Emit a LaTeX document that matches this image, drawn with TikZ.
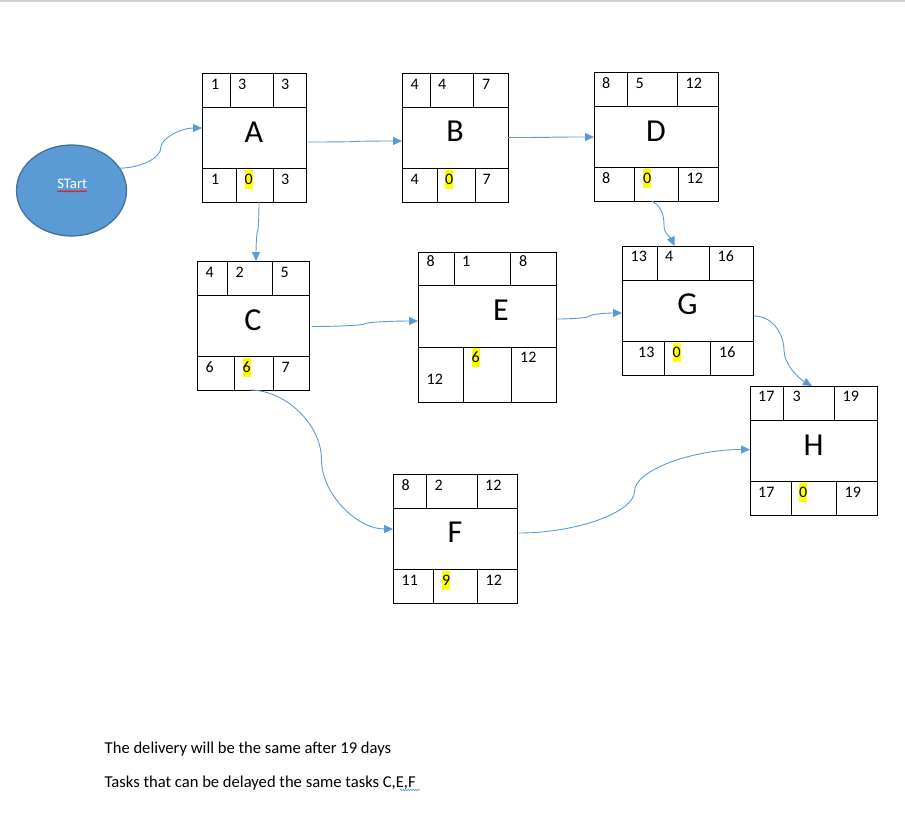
\documentclass[tikz,border=0pt]{standalone}
\usepackage{fontspec}
\setmainfont{Carlito}
\usetikzlibrary{arrows.meta,calc,shapes.geometric,decorations.pathmorphing}

\definecolor{linkblue}{HTML}{5B9BD5}
\definecolor{startedge}{HTML}{41719C}
\definecolor{marker}{HTML}{FFFF00}
\definecolor{frame}{HTML}{D0D0D0}

\newcommand{\numfont}{\fontsize{16}{19}\selectfont}
\newcommand{\letterfont}{\fontsize{32}{38}\selectfont}
\newcommand{\startfont}{\fontsize{14.67}{18}\selectfont}
\newcommand{\notefont}{\fontsize{16.6}{20}\selectfont}

\tikzset{
  box/.style={draw, line width=1pt, inner sep=0pt, outer sep=0pt},
  num/.style={anchor=base west, inner sep=0pt, font=\numfont},
  hl/.style={num, fill=marker, text height=14.5pt, text depth=5pt},
  letter/.style={anchor=base, inner sep=0pt, font=\letterfont},
  note/.style={anchor=base west, inner sep=0pt, font=\notefont},
  startnode/.style={ellipse, draw=startedge, fill=linkblue, line width=1.3pt,
    minimum width=110pt, minimum height=91pt, inner sep=0pt, outer sep=0pt},
  conn/.style={draw=linkblue, line width=0.9pt, -{Triangle[length=9pt,width=8pt]}},
  spell/.style={draw=#1, line width=0.6pt, decorate,
    decoration={snake, amplitude=0.7pt, segment length=2.5pt}},
  % curved connector, leaves and enters horizontally
  hS/.style={to path={let \p1=(\tikztostart), \p2=(\tikztotarget) in
    .. controls ({0.75*\x1+0.25*\x2},\y1) and ({0.5*\x1+0.5*\x2},{0.75*\y1+0.25*\y2})
    .. ({0.5*\x1+0.5*\x2},{0.5*\y1+0.5*\y2})
    .. controls ({0.5*\x1+0.5*\x2},{0.25*\y1+0.75*\y2}) and ({0.25*\x1+0.75*\x2},\y2)
    .. (\tikztotarget) \tikztonodes}},
  % curved connector, leaves and enters vertically
  vS/.style={to path={let \p1=(\tikztostart), \p2=(\tikztotarget) in
    .. controls (\x1,{0.75*\y1+0.25*\y2}) and ({0.75*\x1+0.25*\x2},{0.5*\y1+0.5*\y2})
    .. ({0.5*\x1+0.5*\x2},{0.5*\y1+0.5*\y2})
    .. controls ({0.25*\x1+0.75*\x2},{0.5*\y1+0.5*\y2}) and (\x2,{0.25*\y1+0.75*\y2})
    .. (\tikztotarget) \tikztonodes}}
}

% #1 name, #2 left, #3 right, #4 top, #5 first line, #6 second line, #7 bottom,
% #8 dividers of the top row, #9 dividers of the bottom row
\newcommand{\taskbox}[9]{%
  \node[box, minimum width={#3-#2}, minimum height={#5-#4}] (#1-t) at ({(#2+#3)/2},{(#4+#5)/2}) {};
  \node[box, minimum width={#3-#2}, minimum height={#6-#5}] (#1) at ({(#2+#3)/2},{(#5+#6)/2}) {};
  \node[box, minimum width={#3-#2}, minimum height={#7-#6}] (#1-b) at ({(#2+#3)/2},{(#6+#7)/2}) {};
  \foreach \xd in {#8} \draw[line width=1pt] (\xd,#4) -- (\xd,#5);
  \foreach \xd in {#9} \draw[line width=1pt] (\xd,#6) -- (\xd,#7);
}

% #1 prefix, #2-#4 x of the three cells, #5 baseline, #6-#8 texts, #9 style of the middle one
\newcommand{\cellnums}[9]{%
  \node[num] (#1-1) at (#2,#5) {#6};
  \node[#9] (#1-2) at (#3,#5) {#7};
  \node[num] (#1-3) at (#4,#5) {#8};
}

\begin{document}
\begin{tikzpicture}[x=1pt,y=-1pt]
  \useasboundingbox (0,0) rectangle (905,822);
  \draw[frame, line width=1.5pt] (0,0.8) -- (905,0.8);

  % start
  \node[startnode] (Start) at (71.5,190.5) {};
  \node[anchor=base, inner sep=0pt, font=\startfont, text=white] (start-text) at (72.2,188.3) {STart};
  \draw[spell=red] ([yshift=-3pt]start-text.base west) -- ([yshift=-3pt]start-text.base east);

  % tasks
  \taskbox{A}{202}{306}{73}{107}{168}{202}{230,273}{236,273}
  \cellnums{A-t}{211}{238}{281}{89}{1}{3}{3}{num}
  \cellnums{A-b}{211}{244.5}{281}{184}{1}{0}{3}{hl}
  \node[letter] (A-name) at (254,142.5) {A};

  \taskbox{B}{402}{508}{73}{107}{168}{202}{430,473}{437,475}
  \cellnums{B-t}{410.5}{438}{482}{89}{4}{4}{7}{num}
  \cellnums{B-b}{410.5}{445}{482.5}{184}{4}{0}{7}{hl}
  \node[letter] (B-name) at (455,141.7) {B};

  \taskbox{D}{594}{718}{72}{106}{167}{201}{627,677}{634,678}
  \cellnums{D-t}{602}{635.5}{685.5}{88.5}{8}{5}{12}{num}
  \cellnums{D-b}{602}{643}{686.5}{183}{8}{0}{12}{hl}
  \node[letter] (D-name) at (656,141) {D};

  \taskbox{C}{197}{309}{261}{295}{356}{390}{227,272}{234,273}
  \cellnums{C-t}{205.5}{235.5}{280.5}{277.3}{4}{2}{5}{num}
  \cellnums{C-b}{205.5}{242.5}{281.5}{372}{6}{6}{7}{hl}
  \node[letter] (C-name) at (253,330) {C};

  \taskbox{E}{418}{556}{252}{285}{347}{402}{454,510}{463,511}
  \cellnums{E-t}{426.5}{462}{519}{266.7}{8}{1}{8}{num}
  \node[num] (E-b-1) at (426.5,384) {12};
  \node[hl] (E-b-2) at (471.5,362) {6};
  \node[num] (E-b-3) at (520,362) {12};
  \node[letter] (E-name) at (501,320) {E};

  \taskbox{G}{622}{753}{246}{280}{341}{375}{657,709}{664,710}
  \cellnums{G-t}{630.5}{665}{717.5}{261.7}{13}{4}{16}{num}
  \cellnums{G-b}{638}{672.5}{719}{357}{13}{0}{16}{hl}
  \node[letter] (G-name) at (687.5,314) {G};

  \taskbox{H}{750}{877}{386}{420}{481}{515}{783,834}{791,836}
  \cellnums{H-t}{758}{792.5}{842.5}{401.7}{17}{3}{19}{num}
  \cellnums{H-b}{758}{799}{844.5}{497.3}{17}{0}{19}{hl}
  \node[letter] (H-name) at (813.5,455) {H};

  \taskbox{F}{393}{517}{474}{508}{569}{603}{426,477}{433,477}
  \cellnums{F-t}{401.5}{434.5}{485}{490}{8}{2}{12}{num}
  \cellnums{F-b}{401.5}{442}{485.5}{585}{11}{9}{12}{hl}
  \node[letter] (F-name) at (455,542.7) {F};

  % connectors
  \draw[conn] (Start.25) to[hS] ([yshift=9.5pt]A.west);
  \draw[conn] ([xshift=2pt,yshift=-4.5pt]A.east) to[hS] ([yshift=-3.5pt]B.west);
  \draw[conn] (B.east) to[hS] ([yshift=-0.5pt]D.west);
  \draw[conn] ([xshift=5pt]A-b.south) to[vS] ([xshift=3pt]C-t.north);
  \draw[conn] ([xshift=2.5pt,yshift=-1pt]C.east) to[hS] ([yshift=-5pt]E.west);
  \draw[conn] ([xshift=1pt,yshift=-3pt]E.east) to[hS] ([yshift=-2.5pt]G.west);
  \draw[conn] ([xshift=-4pt]D-b.south) .. controls +(8,5) and +(0,-12) .. ++(12,24)
    .. controls +(0,10) and +(-4,-9) .. ([xshift=-13pt]G-t.north);
  \draw[conn] ([xshift=1pt,yshift=-5.5pt]G.east) .. controls +(20,0) and +(0,-14) .. ++(30,34)
    .. controls +(0,14) and +(-14,-8) .. ([xshift=-1.5pt]H-t.north);
  \draw[conn] ([xshift=-3pt]C-b.south) to[hS] ([yshift=9.5pt]F.west);
  \draw[conn] ([xshift=2pt,yshift=5.5pt]F.east) to[hS] ([yshift=1pt]H.west);

  % notes
  \node[note] (note1) at (104.5,753.5) {The delivery will be the same after 19 days};
  \node[note] (note2) at (104.5,787) {Tasks that can be delayed the same tasks C,E,F};
  \draw[spell=linkblue] ([xshift=-16pt,yshift=-3pt]note2.base east) -- ([xshift=4pt,yshift=-3pt]note2.base east);
\end{tikzpicture}
\end{document}
